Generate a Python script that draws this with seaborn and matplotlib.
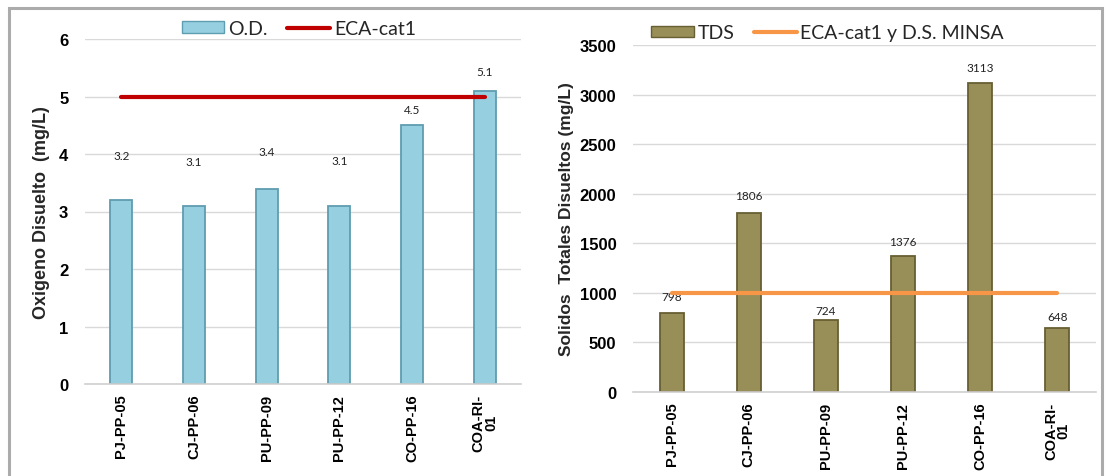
import matplotlib
matplotlib.use("Agg")
import matplotlib.pyplot as plt
from matplotlib.patches import Patch, Rectangle
from matplotlib.lines import Line2D
import seaborn as sns
import pandas as pd

# Sampling stations
stations = ["PJ-PP-05", "CJ-PP-06", "PU-PP-09", "PU-PP-12", "CO-PP-16", "COA-RI-\n01"]

# Dissolved oxygen (mg/L) and its reference standard
od_values = [3.2, 3.1, 3.4, 3.1, 4.5, 5.1]
od_limit = [5, 5, 5, 5, 5, 5]

# Total dissolved solids (mg/L) and its reference standard
tds_values = [798, 1806, 724, 1376, 3113, 648]
tds_limit = [1000, 1000, 1000, 1000, 1000, 1000]

od_ticks = [0, 1, 2, 3, 4, 5, 6]
tds_ticks = [0, 500, 1000, 1500, 2000, 2500, 3000, 3500]

sns.set_theme(style="white")
plt.rcParams["font.family"] = ["Liberation Sans", "DejaVu Sans"]

W, H = 1109, 477
fig = plt.figure(figsize=(W / 100, H / 100), dpi=100)
fig.patch.set_facecolor("white")

# outer frame around both panels
fig.patches.append(Rectangle((9 / W, -0.05), (1102 - 9) / W, (H - 9) / H + 0.05,
                             transform=fig.transFigure, fill=False,
                             edgecolor="#ABABAB", linewidth=2.2, clip_on=False))

ax1 = fig.add_axes([85 / W, 92 / H, 436 / W, 345 / H])
ax2 = fig.add_axes([633 / W, 84 / H, 463 / W, 347 / H])

df_od = pd.DataFrame({"station": stations, "value": od_values})
df_tds = pd.DataFrame({"station": stations, "value": tds_values})

OD_FACE, OD_EDGE = "#96D0E0", "#5F9DB0"
TDS_FACE, TDS_EDGE = "#988E58", "#675F33"

sns.barplot(data=df_od, x="station", y="value", ax=ax1, width=0.30,
            color=OD_FACE, edgecolor=OD_EDGE, linewidth=1.3, saturation=1)
sns.barplot(data=df_tds, x="station", y="value", ax=ax2, width=0.31,
            color=TDS_FACE, edgecolor=TDS_EDGE, linewidth=1.3, saturation=1)

xpos = list(range(len(stations)))
ax1.plot(xpos, od_limit, color="#C00000", linewidth=3.0, solid_capstyle="round", zorder=4)
ax2.plot(xpos, tds_limit, color="#F79646", linewidth=3.0, solid_capstyle="round", zorder=4)

# value labels above each bar (pixel offsets)
od_offsets = [44, 44, 37, 45, 16, 19]
tds_offsets = [16, 17, 10, 14, 16, 11]
label_font = dict(family=["Lato", "DejaVu Sans"], fontsize=8.5, color="#222222")
for i, (v, off) in enumerate(zip(od_values, od_offsets)):
    ax1.annotate(f"{v:.1f}", (i, v), xytext=(0, off), textcoords="offset pixels",
                 ha="center", va="center", **label_font)
for i, (v, off) in enumerate(zip(tds_values, tds_offsets)):
    ax2.annotate(f"{v}", (i, v), xytext=(0, off), textcoords="offset pixels",
                 ha="center", va="center", **label_font)


def style_axis(ax, ticks, ylabel, label_size):
    ax.set_xlim(-0.5, len(stations) - 0.5)
    ax.set_ylim(ticks[0], ticks[-1])
    ax.set_yticks(ticks)
    ax.set_yticklabels([str(t) for t in ticks], fontsize=12, fontweight="bold")
    ax.set_xticks(xpos)
    ax.set_xticklabels(stations, rotation=90, fontsize=10.5, fontweight="bold",
                       linespacing=0.9)
    ax.set_xlabel("")
    ax.set_ylabel(ylabel, fontsize=label_size, fontweight="bold")
    ax.grid(axis="y", color="#D9D9D9", linewidth=1.0)
    ax.set_axisbelow(True)
    for s in ["top", "right", "left"]:
        ax.spines[s].set_visible(False)
    ax.spines["bottom"].set_color("#D0D0D0")
    ax.spines["bottom"].set_linewidth(1.2)
    ax.tick_params(axis="y", length=0, pad=12, colors="black")
    ax.tick_params(axis="x", length=0, pad=7, colors="black")
    ax.set_facecolor("white")


style_axis(ax1, od_ticks, "Oxigeno Disuelto  (mg/L)", 13)
style_axis(ax2, tds_ticks, "Solidos  Totales Disueltos (mg/L)", 12.5)
ax1.yaxis.set_label_coords(-0.08, 0.5)
ax2.yaxis.set_label_coords(-0.127, 0.5)

legend_font = {"family": ["Lato", "DejaVu Sans"], "size": 14}
h1 = [Patch(facecolor=OD_FACE, edgecolor=OD_EDGE, label="O.D."),
      Line2D([0], [0], color="#C00000", linewidth=3, label="ECA-cat1")]
ax1.legend(handles=h1, loc="center", bbox_to_anchor=(0.49, 1.03), ncol=2,
           frameon=False, prop=legend_font, handlelength=2.2, handleheight=0.55,
           columnspacing=1.0, handletextpad=0.2, borderaxespad=0)
h2 = [Patch(facecolor=TDS_FACE, edgecolor=TDS_EDGE, label="TDS"),
      Line2D([0], [0], color="#F79646", linewidth=3, label="ECA-cat1 y D.S. MINSA")]
ax2.legend(handles=h2, loc="center", bbox_to_anchor=(0.42, 1.035), ncol=2,
           frameon=False, prop=legend_font, handlelength=2.2, handleheight=0.55,
           columnspacing=1.0, handletextpad=0.2, borderaxespad=0)

fig.savefig("out.png", dpi=100, facecolor="white")
